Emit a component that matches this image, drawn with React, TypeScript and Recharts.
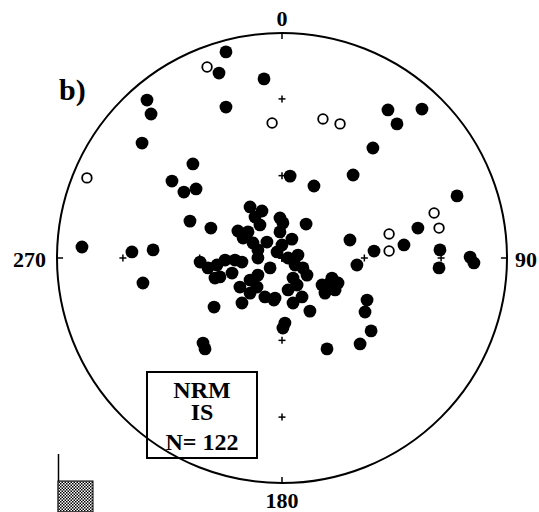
import React from "react";
import {
  ScatterChart,
  Scatter,
  XAxis,
  YAxis,
  ReferenceDot,
  ReferenceLine,
  Customized,
} from "recharts";

// equal-area projection coords, 100 = primitive circle (x = east, y = north)
const filledX = [
  -24.9, -28.0, -8.0, -60.0, -58.2, -24.9, -62.2, -39.6, -48.9, -43.6, -38.2, -40.9, -31.6, -88.9, -66.7,
  -57.3, -61.8, -30.2, -35.1, -34.2, -17.8, 47.1, 62.2, 51.1, 40.4, 3.6, 31.6, 14.2, 77.8, 60.4,
  54.2, 40.9, 30.2, 10.7, 70.2, 69.8, 83.6, 85.3, 33.3, 37.8, 36.9, 39.6, 34.7, 20.0, 12.4,
  1.3, 0.4, 4.9, -3.6, 21.3, 19.1, 24.9, 17.8, 22.2, 23.6, -14.2, -8.9, -12.0, -9.8, -0.9,
  0.4, -0.9, -19.6, -15.1, -17.3, -12.9, -6.7, 4.4, 0.0, -2.2, -10.7, -10.7, 2.7, 7.1, 5.8,
  9.3, 11.1, -5.3, -36.4, -32.9, -28.9, -25.3, -20.9, -17.8, -29.8, -27.6, -22.2, -10.7, -14.2, -18.7,
  -11.1, -14.2, -7.6, -3.1, 2.7, 6.7, 4.9, 8.9,
];
const filledY = [
  91.6, 82.2, 79.6, 70.2, 64.0, 67.1, 51.1, 41.8, 34.2, 29.3, 30.7, 16.4, 13.3, 4.9, 2.7,
  3.6, -11.1, -21.8, -37.8, -40.4, -20.0, 65.8, 66.2, 59.6, 48.9, 36.4, 36.9, 32.0, 27.6, 13.3,
  5.8, 3.1, 8.0, 15.1, 3.6, -4.4, 0.4, -2.2, -3.1, -18.7, -24.0, -32.4, -38.2, -40.4, -23.6,
  -28.9, -31.1, -20.0, -18.7, -11.1, -15.6, -11.1, -12.0, -8.9, -14.2, 22.7, 20.9, 18.2, 14.7, 17.8,
  15.6, 11.6, 12.0, 11.6, 8.9, 6.7, 7.1, 8.4, 5.8, 2.7, 3.6, 0.0, 0.0, 1.3, -3.1,
  -4.4, -7.6, -4.4, -1.8, -4.4, -3.1, -0.9, -0.9, -1.8, -8.9, -8.4, -6.7, -7.6, -9.8, -12.9,
  -12.9, -15.6, -17.3, -17.8, -14.2, -12.0, -8.9, -17.3,
];

const openX = [-33.3, -4.4, -86.7, 18.2, 25.8, 67.6, 69.8, 47.6, 47.6];
const openY = [84.9, 60.0, 35.6, 61.8, 59.6, 20.0, 13.3, 10.7, 3.1];

// grid crosses at these inclinations along N, E, S, W
const crossIncl = [90, 60, 30];
const crossDec = [0, 90, 180, 270];

const dirLabels = ["0", "90", "180", "270"];
const boxLines = ["NRM", "IS", "N= 122"];

const eqArea = (inc: number) => 100 * Math.SQRT2 * Math.sin(((90 - inc) / 2) * (Math.PI / 180));

const filled = filledX.map((x, i) => ({ x, y: filledY[i] }));
const open = openX.map((x, i) => ({ x, y: openY[i] }));
const crosses: { x: number; y: number }[] = [];
crossIncl.forEach((inc) => {
  const r = eqArea(inc);
  crossDec.forEach((d) => {
    const a = (d * Math.PI) / 180;
    crosses.push({ x: r * Math.sin(a), y: r * Math.cos(a) });
  });
});

const W = 539;
const H = 512;
const margin = { top: 33, right: 32, bottom: 29, left: 57 };
const serif = "'Liberation Serif', 'DejaVu Serif', serif";

const FilledDot = (p: any) => <circle cx={p.cx} cy={p.cy} r={6.4} fill="#000" />;
const OpenDot = (p: any) => (
  <circle cx={p.cx} cy={p.cy} r={4.8} fill="#fff" stroke="#000" strokeWidth={1.8} />
);
const Cross = (p: any) => (
  <g stroke="#000" strokeWidth={1.5}>
    <line x1={p.cx - 3.5} y1={p.cy} x2={p.cx + 3.5} y2={p.cy} />
    <line x1={p.cx} y1={p.cy - 3.5} x2={p.cx} y2={p.cy + 3.5} />
  </g>
);

function Decorations() {
  const cx = margin.left + 225;
  const dir = { fontFamily: serif, fontWeight: 700, fontSize: 22, fill: "#000" } as const;
  const box = { fontFamily: serif, fontWeight: 700, fontSize: 24, fill: "#000" } as const;
  return (
    <g>
      <defs>
        <pattern id="stipple" width="3" height="3" patternUnits="userSpaceOnUse">
          <rect width="3" height="3" fill="#fff" />
          <rect width="1.5" height="1.5" fill="#000" />
          <rect x="1.5" y="1.5" width="1.5" height="1.5" fill="#000" />
        </pattern>
      </defs>
      <text x={cx} y={26} textAnchor="middle" {...dir}>{dirLabels[0]}</text>
      <text x={515} y={267} textAnchor="start" {...dir}>{dirLabels[1]}</text>
      <text x={cx} y={508} textAnchor="middle" {...dir}>{dirLabels[2]}</text>
      <text x={46} y={267} textAnchor="end" {...dir}>{dirLabels[3]}</text>
      <text x={59} y={100} fontFamily={serif} fontWeight={700} fontSize={30}>b)</text>
      <rect x={147} y={372} width={110} height={86} fill="#fff" stroke="#000" strokeWidth={2} />
      <text x={202} y={398} textAnchor="middle" {...box}>{boxLines[0]}</text>
      <text x={202} y={420} textAnchor="middle" {...box}>{boxLines[1]}</text>
      <text x={202} y={450} textAnchor="middle" {...box}>{boxLines[2]}</text>
      <line x1={58.5} y1={454} x2={58.5} y2={512} stroke="#000" strokeWidth={1.5} />
      <rect x={58} y={481} width={35} height={31} fill="url(#stipple)" stroke="#000" strokeWidth={1} />
    </g>
  );
}

export default function App() {
  return (
    <div style={{ position: "absolute", left: 0, top: 0, width: W, height: H, background: "#fff" }}>
      <ScatterChart width={W} height={H} margin={margin}>
        <XAxis type="number" dataKey="x" domain={[-100, 100]} hide />
        <YAxis type="number" dataKey="y" domain={[-100, 100]} hide />
        <ReferenceDot x={0} y={0} r={225} fill="none" stroke="#000" strokeWidth={2} />
        <ReferenceLine segment={[{ x: 0, y: 100 }, { x: 0, y: 97.3 }]} stroke="#000" strokeWidth={1.5} />
        <ReferenceLine segment={[{ x: 100, y: 0 }, { x: 97.3, y: 0 }]} stroke="#000" strokeWidth={1.5} />
        <ReferenceLine segment={[{ x: 0, y: -100 }, { x: 0, y: -97.3 }]} stroke="#000" strokeWidth={1.5} />
        <ReferenceLine segment={[{ x: -100, y: 0 }, { x: -97.3, y: 0 }]} stroke="#000" strokeWidth={1.5} />
        <Scatter data={crosses} shape={Cross} isAnimationActive={false} />
        <Scatter data={filled} shape={FilledDot} isAnimationActive={false} />
        <Scatter data={open} shape={OpenDot} isAnimationActive={false} />
        <Customized component={Decorations} />
      </ScatterChart>
    </div>
  );
}
